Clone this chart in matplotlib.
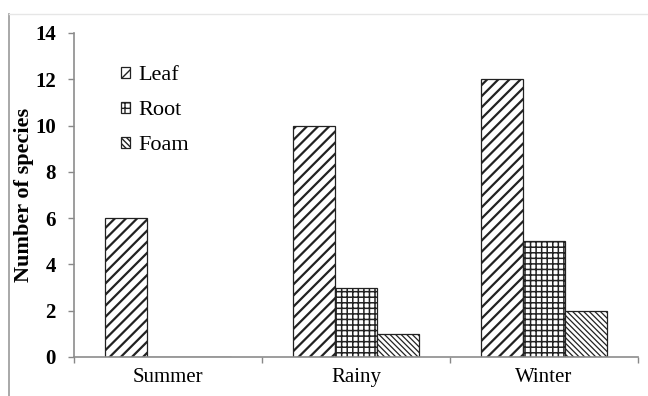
import matplotlib
matplotlib.use("Agg")
import matplotlib.pyplot as plt
from matplotlib.lines import Line2D
import numpy as np

# Data
seasons = ["Summer", "Rainy", "Winter"]
leaf = [6, 10, 12]
root = [0, 3, 5]
foam = [0, 1, 2]
yticks = [0, 2, 4, 6, 8, 10, 12, 14]

plt.rcParams['font.family'] = ['Liberation Serif', 'DejaVu Serif']

fig = plt.figure(figsize=(6.48, 3.96), dpi=100)
ax = fig.add_axes([74 / 648, 1 - 357 / 396, 564 / 648, 324 / 396])

x = np.arange(len(seasons))
w = 0.224

series = [
    (leaf, "Leaf", "///", -w, 1.6),
    (root, "Root", "+++", 0, 1.1),
    (foam, "Foam", "\\\\\\\\\\\\", w, 0.9),
]
for vals, name, hatch, off, hlw in series:
    with plt.rc_context({'hatch.linewidth': hlw}):
        ax.bar(x + off, vals, w, color="white", edgecolor="#222222",
               linewidth=0.9, hatch=hatch, label=name)

ax.set_xlim(-0.5, 2.5)
ax.set_ylim(0, 14)
ax.set_yticks(yticks)
ax.set_yticklabels([str(v) for v in yticks], fontsize=15, fontweight="bold")

# separators between categories as major ticks, names on minor ticks
ax.set_xticks([-0.5, 0.5, 1.5, 2.5])
ax.set_xticklabels([])
ax.set_xticks(x, minor=True)
ax.set_xticklabels(seasons, minor=True, fontsize=15)
ax.tick_params(axis="x", which="minor", length=0, pad=8)
ax.tick_params(axis="x", which="major", length=4, color="#888888", width=1)
ax.tick_params(axis="y", length=4, color="#888888", width=1, pad=9)

for s in ["top", "right"]:
    ax.spines[s].set_visible(False)
for s in ["left", "bottom"]:
    ax.spines[s].set_color("#8c8c8c")
    ax.spines[s].set_linewidth(1.2)

ax.set_ylabel("Number of species", fontsize=16, fontweight="bold", labelpad=1)

leg = ax.legend(loc="upper left", bbox_to_anchor=(0.083, 0.897), frameon=False,
                fontsize=16, handlelength=0.42, handleheight=0.42,
                handletextpad=0.35, labelspacing=0.72, borderpad=0,
                borderaxespad=0)

# thin frame lines of the original image
fig.add_artist(Line2D([9 / 648, 9 / 648], [0, 1 - 14 / 396], color="#999999", lw=1.2))
fig.add_artist(Line2D([9 / 648, 1], [1 - 14 / 396, 1 - 14 / 396], color="#e6e6e6", lw=1))

fig.savefig("out.png", dpi=100)
